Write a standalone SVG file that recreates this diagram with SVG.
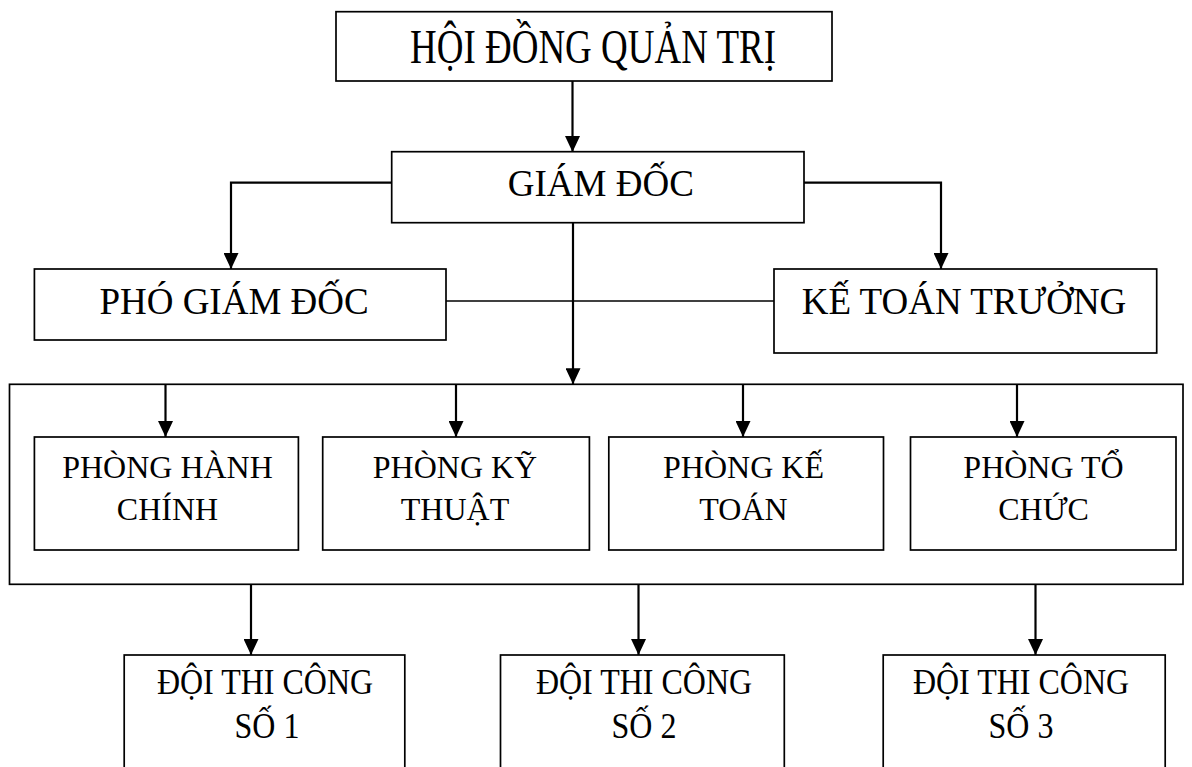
<svg xmlns="http://www.w3.org/2000/svg" width="1192" height="767" viewBox="0 0 1192 767">
  <style>
    .box { fill: #ffffff; stroke: #000000; stroke-width: 1.7; }
    .frame { fill: none; stroke: #000000; stroke-width: 1.7; }
    .lbl { font-family: "Liberation Serif", "DejaVu Serif", serif; fill: #000000; text-anchor: middle; }
    .big { font-size: 37px; }
    .mid { font-size: 32px; }
    .wire { fill: none; stroke: #000000; stroke-width: 1.6; }
    .drop { fill: none; stroke: #000000; stroke-width: 2.2; marker-end: url(#tip); }
  </style>
  <defs>
    <marker id="tip" markerUnits="userSpaceOnUse" markerWidth="16" markerHeight="15" refX="16" refY="7.5" orient="auto">
      <path d="M0,0 L16,7.5 L0,15 Z" fill="#000000"/>
    </marker>
  </defs>

  <rect width="1192" height="767" fill="#ffffff"/>

  <!-- department frame -->
  <g id="khoi-phong-ban">
    <rect class="frame" x="9.5" y="384.3" width="1173.5" height="200"/>
  </g>

  <!-- connectors -->
  <g id="connectors">
    <path class="drop" d="M572.5,81 V152"/>
    <path class="drop" d="M392,182.7 H231 V269"/>
    <path class="drop" d="M804,182.7 H941 V269"/>
    <path class="drop" d="M573,222.7 V384.3"/>
    <path class="wire" d="M446,301 H774"/>
    <path class="drop" d="M165.5,384.3 V437"/>
    <path class="drop" d="M456,384.3 V437"/>
    <path class="drop" d="M743,384.3 V437"/>
    <path class="drop" d="M1017,384.3 V437"/>
    <path class="drop" d="M251,584.3 V655"/>
    <path class="drop" d="M638.5,584.3 V655"/>
    <path class="drop" d="M1035.5,584.3 V655"/>
  </g>

  <g id="hoi-dong-quan-tri">
    <rect class="box" x="336" y="11.7" width="496" height="69.3"/>
    <text class="lbl big" transform="translate(593,62.7) scale(1,1.33)">HỘI ĐỒNG QUẢN TRỊ</text>
  </g>

  <g id="giam-doc">
    <rect class="box" x="391.7" y="151.7" width="412.3" height="71"/>
    <text class="lbl big" x="600.8" y="196">GIÁM ĐỐC</text>
  </g>

  <g id="pho-giam-doc">
    <rect class="box" x="34.4" y="269" width="411.6" height="71"/>
    <text class="lbl big" transform="translate(234,314) scale(1,1.05)">PHÓ GIÁM ĐỐC</text>
  </g>

  <g id="ke-toan-truong">
    <rect class="box" x="774" y="269" width="382.7" height="84"/>
    <text class="lbl big" transform="translate(964,314) scale(1,1.05)">KẾ TOÁN TRƯỞNG</text>
  </g>

  <g id="phong-hanh-chinh">
    <rect class="box" x="34.4" y="437" width="264" height="113"/>
    <text class="lbl mid" x="167.5" y="478">PHÒNG HÀNH</text>
    <text class="lbl mid" x="167.5" y="519.5">CHÍNH</text>
  </g>

  <g id="phong-ky-thuat">
    <rect class="box" x="322.7" y="437" width="266.7" height="113"/>
    <text class="lbl mid" x="455" y="478">PHÒNG KỸ</text>
    <text class="lbl mid" x="455" y="519.5">THUẬT</text>
  </g>

  <g id="phong-ke-toan">
    <rect class="box" x="608.8" y="437" width="274.7" height="113"/>
    <text class="lbl mid" x="743.5" y="478">PHÒNG KẾ</text>
    <text class="lbl mid" x="743.5" y="519.5">TOÁN</text>
  </g>

  <g id="phong-to-chuc">
    <rect class="box" x="910.5" y="437" width="265.5" height="113"/>
    <text class="lbl mid" x="1043.5" y="478">PHÒNG TỔ</text>
    <text class="lbl mid" x="1043.5" y="519.5">CHỨC</text>
  </g>

  <g id="doi-thi-cong-1">
    <rect class="box" x="124.2" y="655" width="280.6" height="130"/>
    <text class="lbl mid" transform="translate(265,694) scale(1,1.14)">ĐỘI THI CÔNG</text>
    <text class="lbl mid" transform="translate(267,738.3) scale(1,1.14)">SỐ 1</text>
  </g>

  <g id="doi-thi-cong-2">
    <rect class="box" x="500.5" y="655" width="283.8" height="130"/>
    <text class="lbl mid" transform="translate(644,694) scale(1,1.14)">ĐỘI THI CÔNG</text>
    <text class="lbl mid" transform="translate(644,738.3) scale(1,1.14)">SỐ 2</text>
  </g>

  <g id="doi-thi-cong-3">
    <rect class="box" x="883.2" y="655" width="282" height="130"/>
    <text class="lbl mid" transform="translate(1021,694) scale(1,1.14)">ĐỘI THI CÔNG</text>
    <text class="lbl mid" transform="translate(1021,738.3) scale(1,1.14)">SỐ 3</text>
  </g>
</svg>
